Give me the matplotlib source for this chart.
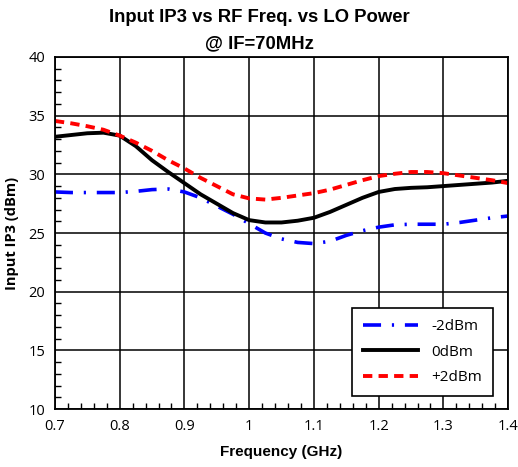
import numpy as np
import matplotlib.pyplot as plt
from matplotlib.ticker import MultipleLocator

# RF frequency sweep (GHz)
freq_ghz = [0.700, 0.725, 0.750, 0.775, 0.800, 0.825, 0.850, 0.875, 0.900, 0.925,
            0.950, 0.975, 1.000, 1.025, 1.050, 1.075, 1.100, 1.125, 1.150, 1.175,
            1.200, 1.225, 1.250, 1.275, 1.300, 1.325, 1.350, 1.375, 1.400]

# Input IP3 (dBm) for each LO drive level
iip3_lo_m2 = [28.5, 28.45, 28.45, 28.45, 28.45, 28.55, 28.7, 28.75, 28.5, 28.0,
              27.3, 26.6, 25.8, 25.0, 24.5, 24.2, 24.1, 24.3, 24.8, 25.2,
              25.5, 25.7, 25.75, 25.75, 25.75, 25.9, 26.1, 26.3, 26.45]
iip3_lo_0 = [33.2, 33.35, 33.5, 33.55, 33.3, 32.4, 31.2, 30.2, 29.25, 28.3,
             27.5, 26.7, 26.1, 25.9, 25.9, 26.05, 26.3, 26.8, 27.4, 28.0,
             28.5, 28.75, 28.85, 28.9, 29.0, 29.1, 29.2, 29.3, 29.45]
iip3_lo_p2 = [34.55, 34.35, 34.1, 33.8, 33.3, 32.7, 32.0, 31.2, 30.5, 29.7,
              29.0, 28.3, 27.95, 27.85, 28.0, 28.2, 28.4, 28.7, 29.1, 29.5,
              29.85, 30.05, 30.2, 30.2, 30.1, 29.9, 29.7, 29.5, 29.25]

series_labels = ["-2dBm", "0dBm", "+2dBm"]
xtick_vals = [0.7, 0.8, 0.9, 1.0, 1.1, 1.2, 1.3, 1.4]

fig = plt.figure(figsize=(5.18, 4.67), dpi=100)
ax = fig.add_axes([0.106, 0.124, 0.875, 0.754])

ax.plot(freq_ghz, iip3_lo_m2, color="#0000ff", lw=2.6,
        linestyle=(0, (5, 3, 0.6, 3)), label=series_labels[0])
ax.plot(freq_ghz, iip3_lo_0, color="black", lw=2.8, label=series_labels[1])
ax.plot(freq_ghz, iip3_lo_p2, color="#ff0000", lw=2.8,
        linestyle=(0, (2.4, 1.6)), label=series_labels[2])

ax.set_xlim(0.7, 1.4)
ax.set_ylim(10, 40)
ax.set_xticks(xtick_vals)
ax.set_xticklabels([f"{v:g}" for v in xtick_vals])
ax.xaxis.set_minor_locator(MultipleLocator(0.02))
ax.yaxis.set_major_locator(MultipleLocator(5))
ax.yaxis.set_minor_locator(MultipleLocator(1))

ax.grid(True, which="major", color="black", lw=1.1)
ax.tick_params(which="both", direction="in", color="black")
ax.tick_params(which="major", length=0, pad=7)
ax.tick_params(which="minor", length=4, width=1)
for lbl in ax.get_xticklabels() + ax.get_yticklabels():
    lbl.set_fontfamily("Open Sans")
    lbl.set_fontsize(10.5)
for sp in ax.spines.values():
    sp.set_linewidth(1.3)

ax.set_xlabel("Frequency (GHz)", fontsize=11, fontweight="bold",
              fontfamily="Liberation Sans", labelpad=8)
ax.set_ylabel("Input IP3 (dBm)", fontsize=10.5, fontweight="bold",
              fontfamily="Open Sans", labelpad=7)

fig.text(0.5, 0.962, "Input IP3 vs RF Freq. vs LO Power", ha="center", va="center",
         fontsize=13.3, fontweight="bold", fontfamily="Liberation Sans")
fig.text(0.5, 0.907, "@ IF=70MHz", ha="center", va="center",
         fontsize=13.3, fontweight="bold", fontfamily="Liberation Sans")

leg = ax.legend(loc="lower left", bbox_to_anchor=(0.656, 0.037, 0.311, 0.25),
                mode="expand", fancybox=False, framealpha=1, edgecolor="black",
                handlelength=3.6, handletextpad=0.9, borderpad=0.7,
                labelspacing=0.7, borderaxespad=0,
                prop={"family": "Open Sans", "size": 11})
leg.get_frame().set_linewidth(1.2)

fig.savefig("out.png", dpi=100)
